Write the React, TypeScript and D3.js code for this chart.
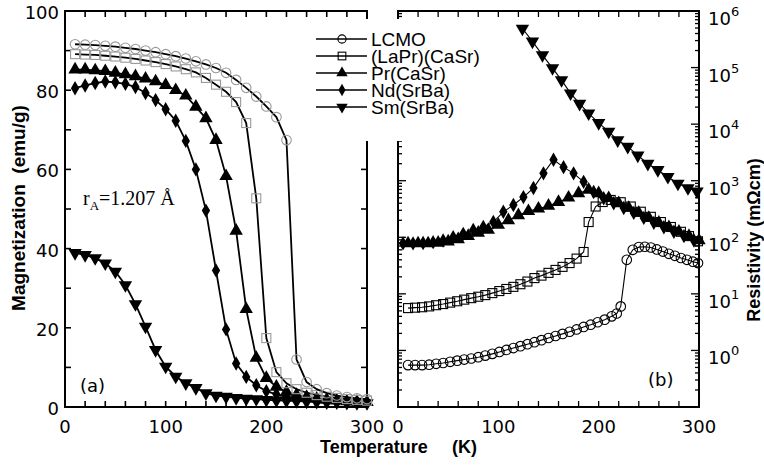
import React from "react";
import * as d3 from "d3";

// ---------- data: panel (a) magnetization vs temperature ----------
const T_M = [10, 20, 30, 40, 50, 60, 70, 80, 90, 100, 110, 120, 130, 140, 150, 160, 170, 180, 190, 200, 210, 220, 230, 240, 250, 260, 270, 280, 290, 300];
const M_LCMO = [91.6, 91.5, 91.4, 91.2, 91.0, 90.7, 90.4, 90.0, 89.6, 89.1, 88.6, 88.0, 87.3, 86.5, 85.6, 84.4, 82.6, 80.6, 78.4, 75.9, 73.2, 67.4, 12.0, 6.3, 4.5, 3.5, 2.9, 2.5, 2.2, 2.0];
const M_LAPR = [89.1, 89.0, 88.9, 88.7, 88.5, 88.2, 87.9, 87.5, 87.1, 86.6, 86.0, 85.3, 84.5, 83.1, 81.4, 79.6, 77.0, 71.7, 52.7, 17.4, 8.8, 6.0, 4.5, 3.6, 3.0, 2.6, 2.3, 2.0, 1.8, 1.6];
const M_PR = [85.2, 85.2, 85.0, 84.8, 84.4, 84.0, 83.5, 82.9, 82.2, 81.3, 80.0, 78.6, 75.8, 72.9, 67.4, 58.3, 44.5, 24.7, 12.4, 7.3, 5.1, 3.8, 3.0, 2.5, 2.1, 1.8, 1.6, 1.4, 1.3, 1.2];
const M_ND = [80.5, 81.2, 81.8, 82.2, 82.0, 81.6, 80.8, 79.3, 77.5, 75.2, 72.3, 67.2, 60.0, 49.6, 34.5, 19.6, 11.0, 7.6, 5.5, 4.0, 3.2, 2.6, 2.2, 1.9, 1.7, 1.5, 1.4, 1.3, 1.2, 1.1];
const M_SM = [38.9, 38.4, 37.6, 36.3, 34.2, 30.8, 26.0, 20.3, 14.4, 10.2, 7.7, 6.0, 4.8, 3.5, 2.9, 2.6, 2.3, 2.1, 2.0, 1.8, 1.7, 1.6, 1.5, 1.4, 1.3, 1.2, 1.2, 1.1, 1.0, 1.0];

// ---------- data: panel (b) resistivity vs temperature ----------
const T_R_LCMO = [10, 17, 24, 31, 38, 45, 52, 59, 66, 73, 80, 87, 94, 101, 108, 115, 122, 129, 136, 143, 150, 157, 164, 171, 178, 185, 192, 199, 206, 213, 218, 222, 228, 234, 240, 246, 252, 258, 264, 270, 276, 282, 288, 294, 299];
const R_LCMO = [0.55, 0.55, 0.55, 0.56, 0.58, 0.6, 0.63, 0.66, 0.69, 0.72, 0.76, 0.81, 0.87, 0.94, 1.02, 1.1, 1.19, 1.29, 1.4, 1.52, 1.66, 1.8, 1.96, 2.14, 2.35, 2.6, 2.85, 3.15, 3.5, 4.0, 4.5, 6.0, 40, 60, 67, 68, 66, 61, 56, 51, 47, 43, 40, 37, 35];
const T_R_LAPR = [10, 17, 24, 31, 38, 45, 52, 59, 66, 73, 80, 87, 94, 101, 108, 115, 122, 129, 136, 143, 150, 157, 164, 171, 178, 185, 190, 197, 204, 212, 222, 232, 242, 252, 262, 272, 282, 290, 299];
const R_LAPR = [5.6, 5.7, 5.8, 6.0, 6.3, 6.6, 7.0, 7.4, 7.9, 8.4, 8.9, 9.5, 10.3, 11.2, 12.2, 13.3, 14.8, 16.5, 19, 21, 23.5, 26.5, 30, 35, 42, 55, 186, 350, 420, 457, 417, 350, 283, 230, 186, 152, 125, 105, 85];
const T_R_PR = [10, 20, 30, 40, 50, 60, 70, 80, 90, 100, 110, 120, 130, 140, 150, 160, 170, 180, 190, 200, 210, 220, 230, 240, 250, 260, 270, 280, 290, 300];
const R_PR = [78, 78, 78, 80, 84, 92, 105, 120, 135, 165, 200, 245, 290, 320, 360, 420, 500, 600, 690, 600, 490, 400, 330, 270, 220, 180, 150, 125, 105, 88];
const T_R_ND = [5, 15, 25, 35, 45, 55, 65, 75, 85, 95, 105, 115, 125, 135, 145, 155, 165, 175, 185, 195, 205, 215, 225, 235, 245, 255, 265, 275, 285, 295];
const R_ND = [78, 78, 79, 82, 88, 100, 115, 135, 152, 186, 282, 372, 513, 741, 1349, 2344, 1738, 1349, 955, 631, 490, 400, 330, 270, 220, 180, 150, 125, 105, 88];
const T_R_SM = [124, 134, 144, 154, 163, 172, 181, 190, 200, 210, 219, 229, 239, 249, 259, 269, 279, 289, 298];
const R_SM = [490000, 290000, 166000, 98000, 60000, 35000, 23000, 15500, 10500, 7400, 5200, 4000, 2800, 2000, 1550, 1170, 890, 740, 650];

// ---------- ticks & labels ----------
const X_TICKS = d3.range(0, 301, 20);
const X_LABELS = [0, 100, 200, 300];
const M_TICKS = d3.range(0, 101, 10);
const M_LABELS = [0, 20, 40, 60, 80, 100];
const R_DECADES = [0, 1, 2, 3, 4, 5, 6];
const LEGEND = ["LCMO", "(LaPr)(CaSr)", "Pr(CaSr)", "Nd(SrBa)", "Sm(SrBa)"];

const W = 764, H = 465;
const SANS = "'DejaVu Sans', sans-serif";
const ARIAL = "'Liberation Sans', Arial, Helvetica, sans-serif";

type Sym = "circle" | "square" | "tri" | "diamond" | "tridown";

function Marker({ x, y, sym, gray, scale = 1 }: { x: number; y: number; sym: Sym; gray?: boolean; scale?: number }) {
  const stroke = gray ? "#999" : "#000";
  if (sym === "circle") return <circle cx={x} cy={y} r={4.8 * scale} fill="none" stroke={stroke} strokeWidth={1.1} />;
  if (sym === "square") {
    const h = 4.5 * scale;
    return <rect x={x - h} y={y - h} width={2 * h} height={2 * h} fill="none" stroke={stroke} strokeWidth={1.1} />;
  }
  const type = sym === "diamond" ? d3.symbolDiamond : d3.symbolTriangle;
  const size = (sym === "diamond" ? 60 : 78) * scale * scale;
  const p = d3.symbol().type(type).size(size)() as string;
  const rot = sym === "tridown" ? 180 : 0;
  return <path d={p} transform={`translate(${x},${y}) rotate(${rot})`} fill="#000" />;
}

export default function App() {
  const xL = d3.scaleLinear().domain([0, 300]).range([65, 367]);
  const yL = d3.scaleLinear().domain([0, 100]).range([407, 11]);
  const xR = d3.scaleLinear().domain([0, 300]).range([398, 699]);
  const yR = d3.scaleLog().domain([0.1, 1e6]).range([407, 11]);

  const lineL = (ys: number[]) =>
    d3.line<number>().x((_, i) => xL(T_M[i])).y((v) => yL(v))(ys) as string;
  const lineR = (ts: number[], vs: number[]) =>
    d3.line<number>().x((_, i) => xR(ts[i])).y((v) => yR(v))(vs) as string;

  const seriesL: { ys: number[]; sym: Sym; gray: boolean }[] = [
    { ys: M_SM, sym: "tridown", gray: false },
    { ys: M_ND, sym: "diamond", gray: false },
    { ys: M_PR, sym: "tri", gray: false },
    { ys: M_LAPR, sym: "square", gray: true },
    { ys: M_LCMO, sym: "circle", gray: true },
  ];
  const seriesR: { ts: number[]; vs: number[]; sym: Sym }[] = [
    { ts: T_R_LCMO, vs: R_LCMO, sym: "circle" },
    { ts: T_R_LAPR, vs: R_LAPR, sym: "square" },
    { ts: T_R_PR, vs: R_PR, sym: "tri" },
    { ts: T_R_ND, vs: R_ND, sym: "diamond" },
    { ts: T_R_SM, vs: R_SM, sym: "tridown" },
  ];
  const legendSyms: Sym[] = ["circle", "square", "tri", "diamond", "tridown"];

  const logTicks = yR.ticks();
  const isDecade = (v: number) => Math.abs(Math.log10(v) - Math.round(Math.log10(v))) < 1e-6;

  return (
    <svg width={W} height={H} style={{ display: "block", position: "absolute", left: 0, top: 0, background: "#fff" }}>
      <rect width={W} height={H} fill="#fff" />
      {/* ---------- panel (a) ---------- */}
      <g stroke="#000" strokeWidth={1.6}>
        {X_TICKS.map((t) => (
          <g key={"xa" + t}>
            <line x1={xL(t)} x2={xL(t)} y1={407} y2={401} />
            <line x1={xL(t)} x2={xL(t)} y1={11} y2={17} />
          </g>
        ))}
        {M_TICKS.map((m) => (
          <g key={"ya" + m}>
            <line x1={65} x2={71} y1={yL(m)} y2={yL(m)} />
            <line x1={367} x2={361} y1={yL(m)} y2={yL(m)} />
          </g>
        ))}
      </g>
      <rect x={65} y={11} width={302} height={396} fill="none" stroke="#000" strokeWidth={2} />
      <g fontFamily={SANS} fontSize={18} fill="#000">
        {X_LABELS.map((t) => (
          <text key={"xla" + t} x={xL(t)} y={433} textAnchor="middle">{t}</text>
        ))}
        {M_LABELS.map((m) => (
          <text key={"yla" + m} x={59} y={yL(m) + 8} textAnchor="end">{m}</text>
        ))}
      </g>
      {seriesL.map((s, k) => (
        <g key={"sl" + k}>
          <path d={lineL(s.ys)} fill="none" stroke="#000" strokeWidth={1.8} />
          {s.ys.map((v, i) => (
            <Marker key={i} x={xL(T_M[i])} y={yL(v)} sym={s.sym} gray={s.gray} />
          ))}
        </g>
      ))}
      <text x={83} y={205} fontFamily="'Liberation Serif', 'Times New Roman', serif" fontSize={20} fill="#000">
        r<tspan fontSize={13} dy={5}>A</tspan><tspan dy={-5}>=1.207 Å</tspan>
      </text>
      <text x={80} y={392} fontFamily={SANS} fontSize={18} fill="#000">(a)</text>

      {/* ---------- panel (b) ---------- */}
      <g stroke="#000" strokeWidth={1.3}>
        {X_TICKS.map((t) => (
          <g key={"xb" + t}>
            <line x1={xR(t)} x2={xR(t)} y1={407} y2={401} />
            <line x1={xR(t)} x2={xR(t)} y1={11} y2={17} />
          </g>
        ))}
        {logTicks.map((v, i) => {
          const len = isDecade(v) ? 8 : 4;
          return (
            <g key={"yb" + i}>
              <line x1={398} x2={398 + len} y1={yR(v)} y2={yR(v)} />
              <line x1={699} x2={699 - len} y1={yR(v)} y2={yR(v)} />
            </g>
          );
        })}
      </g>
      <rect x={398} y={11} width={301} height={396} fill="none" stroke="#000" strokeWidth={2} />
      <g fontFamily={SANS} fontSize={18} fill="#000">
        {X_LABELS.map((t) => (
          <text key={"xlb" + t} x={xR(t)} y={433} textAnchor="middle">{t}</text>
        ))}
        {R_DECADES.map((e) => (
          <text key={"ylb" + e} x={708} y={yR(Math.pow(10, e)) + 14}>
            10<tspan fontSize={13} dy={-9}>{e}</tspan>
          </text>
        ))}
      </g>
      {seriesR.map((s, k) => (
        <g key={"sr" + k}>
          <path d={lineR(s.ts, s.vs)} fill="none" stroke="#000" strokeWidth={1.1} />
          {s.vs.map((v, i) => (
            <Marker key={i} x={xR(s.ts[i])} y={yR(v)} sym={s.sym} />
          ))}
        </g>
      ))}
      <text x={648} y={386} fontFamily={SANS} fontSize={18} fill="#000">(b)</text>

      {/* ---------- legend ---------- */}
      <rect x={304} y={19} width={196} height={122} fill="#fff" />
      {LEGEND.map((name, i) => {
        const y = 39 + i * 17;
        return (
          <g key={name}>
            <line x1={316} x2={367} y1={y} y2={y} stroke="#000" strokeWidth={1.6} />
            <Marker x={342} y={y} sym={legendSyms[i]} scale={0.85} />
            <text x={371} y={y + 7} fontFamily={ARIAL} fontSize={19} fill="#000">{name}</text>
          </g>
        );
      })}

      {/* ---------- axis titles ---------- */}
      <text transform="translate(25,208) rotate(-90)" textAnchor="middle" fontFamily={ARIAL} fontWeight="bold" fontSize={19} fill="#000" style={{ whiteSpace: "pre" }}>
        {"Magnetization  (emu/g)"}
      </text>
      <text x={320} y={453} fontFamily={ARIAL} fontWeight="bold" fontSize={18} fill="#000">
        Temperature<tspan x={452}>(K)</tspan>
      </text>
      <text transform="translate(760,240) rotate(-90)" textAnchor="middle" fontFamily={ARIAL} fontWeight="bold" fontSize={18} fill="#000">
        Resistivity (mΩcm)
      </text>
    </svg>
  );
}
